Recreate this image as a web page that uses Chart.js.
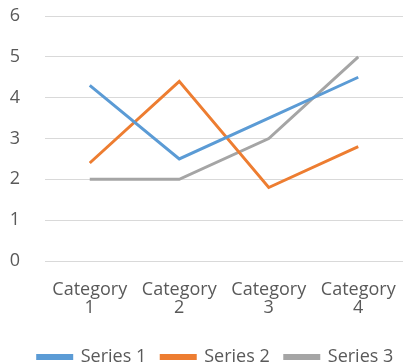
<!DOCTYPE html>
<html>
<head>
<meta charset="utf-8">
<script src="https://cdn.jsdelivr.net/npm/chart.js@4"></script>
<style>
  html, body { margin: 0; padding: 0; background: #fff; }
  #wrap { width: 403px; height: 364px; }
</style>
</head>
<body>
<div id="wrap"><canvas id="chart"></canvas></div>
<script>
// data
const categories = [["Category", "1"], ["Category", "2"], ["Category", "3"], ["Category", "4"]];
const series1 = [4.3, 2.5, 3.5, 4.5];
const series2 = [2.4, 4.4, 1.8, 2.8];
const series3 = [2, 2, 3, 5];
const seriesNames = ["Series 1", "Series 2", "Series 3"];
const colors = ["#5B9BD5", "#ED7D31", "#A5A5A5"];

const font = "'Open Sans', Lato, sans-serif";
const textColor = "#595959";

const datasets = [series1, series2, series3].map((vals, i) => ({
  label: seriesNames[i],
  data: vals,
  borderColor: colors[i],
  backgroundColor: colors[i],
  borderWidth: 3,
  pointRadius: 0,
  tension: 0,
}));

// negative right padding widens the full-width legend so it sits a bit right of centre
new Chart(document.getElementById("chart"), {
  type: "line",
  data: { labels: categories, datasets },
  options: {
    responsive: true,
    maintainAspectRatio: false,
    animation: false,
    layout: { padding: { top: 16, right: -28, left: 0, bottom: -12 } },
    plugins: {
      legend: {
        position: "bottom",
        labels: {
          font: { family: font, size: 18 },
          color: textColor,
          boxWidth: 34,
          boxHeight: 3,
          padding: 15,
        },
      },
      tooltip: { enabled: false },
    },
    scales: {
      x: {
        offset: true,
        grid: { display: false },
        border: { display: false },
        ticks: {
          font: { family: font, size: 18, lineHeight: 1.05 },
          color: textColor,
          maxRotation: 0,
          padding: 11,
        },
        afterFit: (scale) => {
          scale.height = 72;
          scale.paddingLeft = 0;
          scale.paddingRight = -2;
        },
      },
      y: {
        min: 0,
        max: 6,
        ticks: {
          stepSize: 1,
          font: { family: font, size: 18 },
          color: textColor,
          padding: 25,
        },
        grid: { color: "#D9D9D9", lineWidth: 1, drawTicks: false },
        border: { display: false },
        afterFit: (scale) => {
          scale.width = 45;
          scale.paddingTop = 0;
          scale.paddingBottom = 0;
        },
      },
    },
  },
});
</script>
</body>
</html>
